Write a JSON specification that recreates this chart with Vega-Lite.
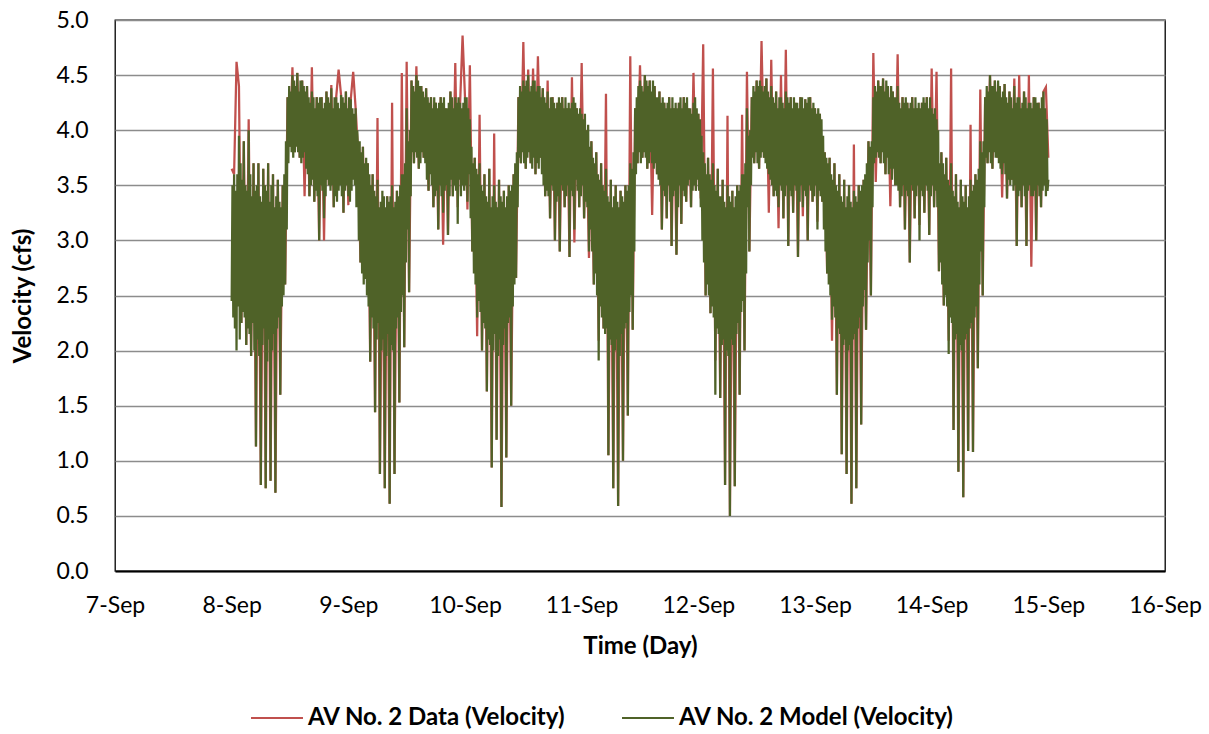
{
  "$schema": "https://vega.github.io/schema/vega-lite/v6.json",
  "width": 1050,
  "height": 551,
  "autosize": "none",
  "padding": {"left": 115, "top": 20, "right": 44, "bottom": 163},
  "background": "white",
  "config": {
    "font": "Lato",
    "view": {"stroke": "#000000", "strokeWidth": 1.3},
    "axis": {"labelColor": "#000000", "titleColor": "#000000", "labelFont": "Lato", "titleFont": "Lato"}
  },
  "data": {
    "values": [
      {"t":0,"m":2.45,"d":3.65},{"t":10,"m":3.5},{"t":20,"m":2.3},
      {"t":30,"m":3.6,"d":3.6},{"t":40,"m":2.2},{"t":50,"m":3.45},
      {"t":60,"m":2.0,"d":4.62},{"t":70,"m":3.6},{"t":80,"m":2.4},
      {"t":90,"m":3.95,"d":4.4},{"t":100,"m":2.1},{"t":110,"m":3.7},
      {"t":120,"m":2.25,"d":2.25},{"t":130,"m":3.55},{"t":140,"m":2.35},
      {"t":150,"m":3.9,"d":3.9},{"t":160,"m":2.3},{"t":170,"m":3.5},
      {"t":180,"m":2.05,"d":2.05},{"t":190,"m":3.45},{"t":200,"m":2.2},
      {"t":210,"m":4.0,"d":4.1},{"t":220,"m":2.15},{"t":230,"m":3.6},
      {"t":240,"m":1.95,"d":1.95},{"t":250,"m":3.4},{"t":260,"m":2.25},
      {"t":270,"m":3.7,"d":3.7},{"t":280,"m":2.0},{"t":290,"m":3.45},
      {"t":300,"m":1.13,"d":1.13},{"t":310,"m":3.5},{"t":320,"m":2.1},
      {"t":330,"m":3.7,"d":3.7},{"t":340,"m":1.95},{"t":350,"m":3.4},
      {"t":360,"m":0.78,"d":0.78},{"t":370,"m":3.35},{"t":380,"m":2.05},
      {"t":390,"m":3.65,"d":3.65},{"t":400,"m":2.2},{"t":410,"m":3.5},
      {"t":420,"m":0.75,"d":0.75},{"t":430,"m":3.45},{"t":440,"m":1.9},
      {"t":450,"m":3.7,"d":3.7},{"t":460,"m":2.1},{"t":470,"m":3.35},
      {"t":480,"m":0.82,"d":0.82},{"t":490,"m":3.5},{"t":500,"m":2.0},
      {"t":510,"m":3.6,"d":3.6},{"t":520,"m":2.15},{"t":530,"m":3.3},
      {"t":540,"m":0.71,"d":0.71},{"t":550,"m":3.4},{"t":560,"m":2.2},
      {"t":570,"m":3.55,"d":3.55},{"t":580,"m":2.3},{"t":590,"m":3.35},
      {"t":600,"m":1.6,"d":1.6},{"t":610,"m":3.3},{"t":620,"m":2.4},
      {"t":630,"m":3.5,"d":3.5},{"t":640,"m":2.5},{"t":650,"m":3.6},
      {"t":660,"m":2.6,"d":2.6},{"t":670,"m":3.9},{"t":680,"m":3.1},
      {"t":690,"m":4.3,"d":4.3},{"t":700,"m":3.7},{"t":710,"m":4.4},
      {"t":720,"m":3.85,"d":3.85},{"t":730,"m":4.35},{"t":740,"m":3.8},
      {"t":750,"m":4.5,"d":4.57},{"t":760,"m":3.75},{"t":770,"m":4.45},
      {"t":780,"m":3.8,"d":3.8},{"t":790,"m":4.4},{"t":800,"m":3.85},
      {"t":810,"m":4.52,"d":4.52},{"t":820,"m":3.8},{"t":830,"m":4.35},
      {"t":840,"m":3.75,"d":3.75},{"t":850,"m":4.45},{"t":860,"m":3.7},
      {"t":870,"m":4.45,"d":4.45},{"t":880,"m":3.75},{"t":890,"m":4.4},
      {"t":900,"m":3.8,"d":3.4},{"t":910,"m":4.35},{"t":920,"m":3.65},
      {"t":930,"m":4.4,"d":4.4},{"t":940,"m":3.6},{"t":950,"m":4.3},
      {"t":960,"m":3.4,"d":3.4},{"t":970,"m":4.25},{"t":980,"m":3.5},
      {"t":990,"m":4.35,"d":4.57},{"t":1000,"m":3.55},{"t":1010,"m":4.3},
      {"t":1020,"m":3.35,"d":3.35},{"t":1030,"m":4.2},{"t":1040,"m":3.45},
      {"t":1050,"m":4.3,"d":4.3},{"t":1060,"m":3.4},{"t":1070,"m":4.25},
      {"t":1080,"m":3.0,"d":3.0},{"t":1090,"m":4.3},{"t":1100,"m":3.5},
      {"t":1110,"m":4.3,"d":4.3},{"t":1120,"m":3.45},{"t":1130,"m":4.2},
      {"t":1140,"m":3.2,"d":3.0},{"t":1150,"m":4.25},{"t":1160,"m":3.4},
      {"t":1170,"m":4.35,"d":4.35},{"t":1180,"m":3.55},{"t":1190,"m":4.3},
      {"t":1200,"m":3.5,"d":3.5},{"t":1210,"m":4.25},{"t":1220,"m":3.45},
      {"t":1230,"m":4.38,"d":4.41},{"t":1240,"m":3.5},{"t":1250,"m":4.2},
      {"t":1260,"m":3.3,"d":3.3},{"t":1270,"m":4.3},{"t":1280,"m":3.4},
      {"t":1290,"m":4.3,"d":4.3},{"t":1300,"m":3.35},{"t":1310,"m":4.25},
      {"t":1320,"m":3.45,"d":4.55},{"t":1330,"m":4.2},{"t":1340,"m":3.5},
      {"t":1350,"m":4.32,"d":4.32},{"t":1360,"m":3.4},{"t":1370,"m":4.3},
      {"t":1380,"m":3.25,"d":3.25},{"t":1390,"m":4.25},{"t":1400,"m":3.45},
      {"t":1410,"m":4.35,"d":4.35},{"t":1420,"m":3.5},{"t":1430,"m":4.2},
      {"t":1440,"m":3.4,"d":3.32},{"t":1450,"m":4.3},{"t":1460,"m":3.35},
      {"t":1470,"m":4.28,"d":4.28},{"t":1480,"m":3.45},{"t":1490,"m":4.2},
      {"t":1500,"m":3.55,"d":4.53},{"t":1510,"m":4.15},{"t":1520,"m":3.5},
      {"t":1530,"m":4.2,"d":4.2},{"t":1540,"m":3.3},{"t":1550,"m":4.0},
      {"t":1560,"m":3.8,"d":3.8},{"t":1570,"m":3.0},{"t":1580,"m":3.9},
      {"t":1590,"m":2.8,"d":2.8},{"t":1600,"m":3.8},{"t":1610,"m":2.7},
      {"t":1620,"m":3.85,"d":3.85},{"t":1630,"m":2.6},{"t":1640,"m":3.7},
      {"t":1650,"m":2.65,"d":2.65},{"t":1660,"m":3.75},{"t":1670,"m":2.5},
      {"t":1680,"m":3.7,"d":3.7},{"t":1690,"m":2.4},{"t":1700,"m":3.6},
      {"t":1710,"m":1.9,"d":1.9},{"t":1720,"m":3.5},{"t":1730,"m":2.3},
      {"t":1740,"m":3.6,"d":3.6},{"t":1750,"m":2.2},{"t":1760,"m":3.45},
      {"t":1770,"m":1.44,"d":1.44},{"t":1780,"m":3.4},{"t":1790,"m":2.1},
      {"t":1800,"m":3.55,"d":4.11},{"t":1810,"m":2.25},{"t":1820,"m":3.3},
      {"t":1830,"m":0.88,"d":0.88},{"t":1840,"m":3.35},{"t":1850,"m":2.0},
      {"t":1860,"m":3.45,"d":3.35},{"t":1870,"m":2.1},{"t":1880,"m":3.4},
      {"t":1890,"m":0.75,"d":0.75},{"t":1900,"m":3.3},{"t":1910,"m":1.95},
      {"t":1920,"m":3.4,"d":3.4},{"t":1930,"m":2.15},{"t":1940,"m":3.35},
      {"t":1950,"m":0.61,"d":0.61},{"t":1960,"m":3.4},{"t":1970,"m":2.05},
      {"t":1980,"m":3.5,"d":4.25},{"t":1990,"m":2.0},{"t":2000,"m":3.3},
      {"t":2010,"m":0.88,"d":0.88},{"t":2020,"m":3.35},{"t":2030,"m":2.2},
      {"t":2040,"m":3.45,"d":3.45},{"t":2050,"m":2.3},{"t":2060,"m":3.4},
      {"t":2070,"m":1.53,"d":1.53},{"t":2080,"m":3.5},{"t":2090,"m":2.35},
      {"t":2100,"m":3.6,"d":4.52},{"t":2110,"m":2.5},{"t":2120,"m":3.6},
      {"t":2130,"m":2.03,"d":2.03},{"t":2140,"m":3.7},{"t":2150,"m":2.8},
      {"t":2160,"m":4.2,"d":4.62},{"t":2170,"m":3.1},{"t":2180,"m":3.9},
      {"t":2190,"m":2.53,"d":2.53},{"t":2200,"m":4.0},{"t":2210,"m":3.4},
      {"t":2220,"m":4.45,"d":4.45},{"t":2230,"m":3.8},{"t":2240,"m":4.4},
      {"t":2250,"m":3.7,"d":3.7},{"t":2260,"m":4.35},{"t":2270,"m":3.8},
      {"t":2280,"m":4.5,"d":4.58},{"t":2290,"m":3.75},{"t":2300,"m":4.45},
      {"t":2310,"m":3.65,"d":3.65},{"t":2320,"m":4.4},{"t":2330,"m":3.7},
      {"t":2340,"m":4.4,"d":4.4},{"t":2350,"m":3.8},{"t":2360,"m":4.35},
      {"t":2370,"m":3.75,"d":3.75},{"t":2380,"m":4.3},{"t":2390,"m":3.7},
      {"t":2400,"m":4.38,"d":4.38},{"t":2410,"m":3.55},{"t":2420,"m":4.3},
      {"t":2430,"m":3.45,"d":3.45},{"t":2440,"m":4.25},{"t":2450,"m":3.6},
      {"t":2460,"m":4.3,"d":4.3},{"t":2470,"m":3.5},{"t":2480,"m":4.2},
      {"t":2490,"m":3.3,"d":3.3},{"t":2500,"m":4.3},{"t":2510,"m":3.4},
      {"t":2520,"m":4.25,"d":4.25},{"t":2530,"m":3.45},{"t":2540,"m":4.2},
      {"t":2550,"m":3.1,"d":3.1},{"t":2560,"m":4.25},{"t":2570,"m":3.5},
      {"t":2580,"m":4.3,"d":4.3},{"t":2590,"m":3.4},{"t":2600,"m":4.25},
      {"t":2610,"m":3.25,"d":2.96},{"t":2620,"m":4.3},{"t":2630,"m":3.45},
      {"t":2640,"m":4.2,"d":4.2},{"t":2650,"m":3.5},{"t":2660,"m":4.2},
      {"t":2670,"m":3.05,"d":3.05},{"t":2680,"m":4.25},{"t":2690,"m":3.4},
      {"t":2700,"m":4.35,"d":4.35},{"t":2710,"m":3.55},{"t":2720,"m":4.3},
      {"t":2730,"m":3.4,"d":3.4},{"t":2740,"m":4.2},{"t":2750,"m":3.5},
      {"t":2760,"m":4.3,"d":4.61},{"t":2770,"m":3.45},{"t":2780,"m":4.25},
      {"t":2790,"m":3.15,"d":3.3},{"t":2800,"m":4.3},{"t":2810,"m":3.55},
      {"t":2820,"m":4.25,"d":4.25},{"t":2830,"m":3.4},{"t":2840,"m":4.2},
      {"t":2850,"m":3.5,"d":4.86},{"t":2860,"m":4.25},{"t":2870,"m":3.45},
      {"t":2880,"m":4.3,"d":4.3},{"t":2890,"m":3.5},{"t":2900,"m":4.3},
      {"t":2910,"m":3.35,"d":3.28},{"t":2920,"m":4.2},{"t":2930,"m":3.6},
      {"t":2940,"m":4.1,"d":4.59},{"t":2950,"m":3.2},{"t":2960,"m":3.85},
      {"t":2970,"m":2.9,"d":2.9},{"t":2980,"m":3.7},{"t":2990,"m":2.7},
      {"t":3000,"m":3.75,"d":3.75},{"t":3010,"m":2.6},{"t":3020,"m":3.65},
      {"t":3030,"m":2.3,"d":2.13},{"t":3040,"m":3.6},{"t":3050,"m":2.45},
      {"t":3060,"m":3.7,"d":4.14},{"t":3070,"m":2.35},{"t":3080,"m":3.5},
      {"t":3090,"m":2.0,"d":2.0},{"t":3100,"m":3.45},{"t":3110,"m":2.25},
      {"t":3120,"m":3.6,"d":3.6},{"t":3130,"m":2.2},{"t":3140,"m":3.4},
      {"t":3150,"m":1.63,"d":1.63},{"t":3160,"m":3.35},{"t":3170,"m":2.1},
      {"t":3180,"m":3.65,"d":3.65},{"t":3190,"m":2.05},{"t":3200,"m":3.3},
      {"t":3210,"m":0.94,"d":0.94},{"t":3220,"m":3.4},{"t":3230,"m":2.0},
      {"t":3240,"m":3.5,"d":3.97},{"t":3250,"m":2.15},{"t":3260,"m":3.35},
      {"t":3270,"m":1.19,"d":1.19},{"t":3280,"m":3.3},{"t":3290,"m":1.95},
      {"t":3300,"m":3.55,"d":3.55},{"t":3310,"m":2.1},{"t":3320,"m":3.4},
      {"t":3330,"m":0.58,"d":0.58},{"t":3340,"m":3.35},{"t":3350,"m":2.05},
      {"t":3360,"m":3.45,"d":3.45},{"t":3370,"m":2.2},{"t":3380,"m":3.3},
      {"t":3390,"m":1.03,"d":1.03},{"t":3400,"m":3.4},{"t":3410,"m":2.25},
      {"t":3420,"m":3.5,"d":3.5},{"t":3430,"m":2.3},{"t":3440,"m":3.45},
      {"t":3450,"m":1.5,"d":1.5},{"t":3460,"m":3.5},{"t":3470,"m":2.4},
      {"t":3480,"m":3.6,"d":3.6},{"t":3490,"m":2.6},{"t":3500,"m":3.7},
      {"t":3510,"m":2.66,"d":2.66},{"t":3520,"m":3.8},{"t":3530,"m":3.3},
      {"t":3540,"m":4.3,"d":4.3},{"t":3550,"m":3.75},{"t":3560,"m":4.4},
      {"t":3570,"m":3.7,"d":3.7},{"t":3580,"m":4.35},{"t":3590,"m":3.8},
      {"t":3600,"m":4.45,"d":4.8},{"t":3610,"m":3.7},{"t":3620,"m":4.4},
      {"t":3630,"m":3.65,"d":3.65},{"t":3640,"m":4.45},{"t":3650,"m":3.75},
      {"t":3660,"m":4.5,"d":4.55},{"t":3670,"m":3.8},{"t":3680,"m":4.35},
      {"t":3690,"m":3.7,"d":3.7},{"t":3700,"m":4.4},{"t":3710,"m":3.65},
      {"t":3720,"m":4.45,"d":4.56},{"t":3730,"m":3.75},{"t":3740,"m":4.45},
      {"t":3750,"m":3.6,"d":3.6},{"t":3760,"m":4.35},{"t":3770,"m":3.7},
      {"t":3780,"m":4.4,"d":4.67},{"t":3790,"m":3.65},{"t":3800,"m":4.4},
      {"t":3810,"m":3.75,"d":3.75},{"t":3820,"m":4.3},{"t":3830,"m":3.6},
      {"t":3840,"m":4.38,"d":4.38},{"t":3850,"m":3.5},{"t":3860,"m":4.3},
      {"t":3870,"m":3.4,"d":3.4},{"t":3880,"m":4.25},{"t":3890,"m":3.45},
      {"t":3900,"m":4.35,"d":4.45},{"t":3910,"m":3.4},{"t":3920,"m":4.2},
      {"t":3930,"m":3.2,"d":3.2},{"t":3940,"m":4.3},{"t":3950,"m":3.5},
      {"t":3960,"m":4.3,"d":4.3},{"t":3970,"m":3.45},{"t":3980,"m":4.25},
      {"t":3990,"m":3.0,"d":3.0},{"t":4000,"m":4.2},{"t":4010,"m":3.35},
      {"t":4020,"m":4.25,"d":4.25},{"t":4030,"m":3.4},{"t":4040,"m":4.3},
      {"t":4050,"m":2.9,"d":2.9},{"t":4060,"m":4.25},{"t":4070,"m":3.5},
      {"t":4080,"m":4.3,"d":4.3},{"t":4090,"m":3.45},{"t":4100,"m":4.2},
      {"t":4110,"m":3.3,"d":3.3},{"t":4120,"m":4.3},{"t":4130,"m":3.4},
      {"t":4140,"m":4.2,"d":4.2},{"t":4150,"m":3.5},{"t":4160,"m":4.25},
      {"t":4170,"m":2.85,"d":2.85},{"t":4180,"m":4.2},{"t":4190,"m":3.45},
      {"t":4200,"m":4.25,"d":4.48},{"t":4210,"m":3.4},{"t":4220,"m":4.3},
      {"t":4230,"m":3.1,"d":2.98},{"t":4240,"m":4.25},{"t":4250,"m":3.55},
      {"t":4260,"m":4.2,"d":4.2},{"t":4270,"m":3.45},{"t":4280,"m":4.15},
      {"t":4290,"m":3.3,"d":3.3},{"t":4300,"m":4.2},{"t":4310,"m":3.4},
      {"t":4320,"m":4.15,"d":4.61},{"t":4330,"m":3.5},{"t":4340,"m":4.1},
      {"t":4350,"m":3.2,"d":3.2},{"t":4360,"m":4.15},{"t":4370,"m":3.35},
      {"t":4380,"m":4.0,"d":4.0},{"t":4390,"m":3.3},{"t":4400,"m":4.05},
      {"t":4410,"m":2.9,"d":2.84},{"t":4420,"m":3.85},{"t":4430,"m":3.1},
      {"t":4440,"m":3.9,"d":3.9},{"t":4450,"m":2.9},{"t":4460,"m":3.75},
      {"t":4470,"m":2.6,"d":2.6},{"t":4480,"m":3.7},{"t":4490,"m":2.7},
      {"t":4500,"m":3.8,"d":3.8},{"t":4510,"m":2.5},{"t":4520,"m":3.6},
      {"t":4530,"m":1.91,"d":2.09},{"t":4540,"m":3.55},{"t":4550,"m":2.4},
      {"t":4560,"m":3.7,"d":3.7},{"t":4570,"m":2.3},{"t":4580,"m":3.5},
      {"t":4590,"m":2.2,"d":2.2},{"t":4600,"m":3.45},{"t":4610,"m":2.15},
      {"t":4620,"m":3.65,"d":4.33},{"t":4630,"m":2.2},{"t":4640,"m":3.4},
      {"t":4650,"m":1.05,"d":1.05},{"t":4660,"m":3.35},{"t":4670,"m":2.1},
      {"t":4680,"m":3.55,"d":3.55},{"t":4690,"m":2.05},{"t":4700,"m":3.3},
      {"t":4710,"m":0.75,"d":0.75},{"t":4720,"m":3.4},{"t":4730,"m":2.0},
      {"t":4740,"m":3.5,"d":3.5},{"t":4750,"m":2.1},{"t":4760,"m":3.35},
      {"t":4770,"m":0.59,"d":0.59},{"t":4780,"m":3.3},{"t":4790,"m":1.95},
      {"t":4800,"m":3.45,"d":3.45},{"t":4810,"m":2.15},{"t":4820,"m":3.4},
      {"t":4830,"m":1.0,"d":1.0},{"t":4840,"m":3.35},{"t":4850,"m":2.2},
      {"t":4860,"m":3.5,"d":3.5},{"t":4870,"m":2.25},{"t":4880,"m":3.45},
      {"t":4890,"m":1.41,"d":1.41},{"t":4900,"m":3.5},{"t":4910,"m":2.35},
      {"t":4920,"m":3.7,"d":4.67},{"t":4930,"m":2.5},{"t":4940,"m":3.65},
      {"t":4950,"m":2.19,"d":2.19},{"t":4960,"m":3.8},{"t":4970,"m":2.9},
      {"t":4980,"m":4.2,"d":4.2},{"t":4990,"m":3.6},{"t":5000,"m":4.3},
      {"t":5010,"m":3.7,"d":3.7},{"t":5020,"m":4.4},{"t":5030,"m":3.8},
      {"t":5040,"m":4.45,"d":4.59},{"t":5050,"m":3.7},{"t":5060,"m":4.4},
      {"t":5070,"m":3.75,"d":3.75},{"t":5080,"m":4.35},{"t":5090,"m":3.8},
      {"t":5100,"m":4.5,"d":4.5},{"t":5110,"m":3.75},{"t":5120,"m":4.45},
      {"t":5130,"m":3.65,"d":3.65},{"t":5140,"m":4.4},{"t":5150,"m":3.7},
      {"t":5160,"m":4.45,"d":4.45},{"t":5170,"m":3.8},{"t":5180,"m":4.35},
      {"t":5190,"m":3.7,"d":3.23},{"t":5200,"m":4.45},{"t":5210,"m":3.65},
      {"t":5220,"m":4.4,"d":4.4},{"t":5230,"m":3.7},{"t":5240,"m":4.3},
      {"t":5250,"m":3.6,"d":3.6},{"t":5260,"m":4.3},{"t":5270,"m":3.55},
      {"t":5280,"m":4.35,"d":4.35},{"t":5290,"m":3.5},{"t":5300,"m":4.25},
      {"t":5310,"m":3.1,"d":3.1},{"t":5320,"m":4.3},{"t":5330,"m":3.45},
      {"t":5340,"m":4.25,"d":4.25},{"t":5350,"m":3.4},{"t":5360,"m":4.2},
      {"t":5370,"m":3.2,"d":3.2},{"t":5380,"m":4.25},{"t":5390,"m":3.5},
      {"t":5400,"m":4.3,"d":4.3},{"t":5410,"m":3.35},{"t":5420,"m":4.2},
      {"t":5430,"m":2.95,"d":2.95},{"t":5440,"m":4.3},{"t":5450,"m":3.4},
      {"t":5460,"m":4.2,"d":4.2},{"t":5470,"m":3.45},{"t":5480,"m":4.25},
      {"t":5490,"m":2.87,"d":2.87},{"t":5500,"m":4.2},{"t":5510,"m":3.3},
      {"t":5520,"m":4.25,"d":4.25},{"t":5530,"m":3.5},{"t":5540,"m":4.3},
      {"t":5550,"m":3.15,"d":3.15},{"t":5560,"m":4.2},{"t":5570,"m":3.45},
      {"t":5580,"m":4.3,"d":4.3},{"t":5590,"m":3.4},{"t":5600,"m":4.25},
      {"t":5610,"m":3.35,"d":3.35},{"t":5620,"m":4.3},{"t":5630,"m":3.5},
      {"t":5640,"m":4.2,"d":4.2},{"t":5650,"m":3.55},{"t":5660,"m":4.2},
      {"t":5670,"m":3.3,"d":3.3},{"t":5680,"m":4.15},{"t":5690,"m":3.45},
      {"t":5700,"m":4.25,"d":4.52},{"t":5710,"m":3.5},{"t":5720,"m":4.3},
      {"t":5730,"m":3.45,"d":3.45},{"t":5740,"m":4.2},{"t":5750,"m":3.55},
      {"t":5760,"m":4.15,"d":4.15},{"t":5770,"m":3.45},{"t":5780,"m":4.1},
      {"t":5790,"m":3.3,"d":3.38},{"t":5800,"m":3.95},{"t":5810,"m":3.0},
      {"t":5820,"m":3.8,"d":4.78},{"t":5830,"m":2.8},{"t":5840,"m":3.7},
      {"t":5850,"m":2.5,"d":2.5},{"t":5860,"m":3.6},{"t":5870,"m":2.6},
      {"t":5880,"m":3.75,"d":3.75},{"t":5890,"m":2.5},{"t":5900,"m":3.6},
      {"t":5910,"m":2.34,"d":2.34},{"t":5920,"m":3.55},{"t":5930,"m":2.4},
      {"t":5940,"m":3.7,"d":4.56},{"t":5950,"m":2.3},{"t":5960,"m":3.5},
      {"t":5970,"m":1.6,"d":1.91},{"t":5980,"m":3.45},{"t":5990,"m":2.2},
      {"t":6000,"m":3.65,"d":3.65},{"t":6010,"m":2.15},{"t":6020,"m":3.4},
      {"t":6030,"m":1.57,"d":1.57},{"t":6040,"m":3.4},{"t":6050,"m":2.05},
      {"t":6060,"m":3.55,"d":3.55},{"t":6070,"m":2.1},{"t":6080,"m":3.35},
      {"t":6090,"m":0.78,"d":0.78},{"t":6100,"m":3.3},{"t":6110,"m":2.0},
      {"t":6120,"m":3.5,"d":4.13},{"t":6130,"m":1.95},{"t":6140,"m":3.4},
      {"t":6150,"m":0.5,"d":0.5},{"t":6160,"m":3.35},{"t":6170,"m":2.1},
      {"t":6180,"m":3.45,"d":3.45},{"t":6190,"m":2.05},{"t":6200,"m":3.3},
      {"t":6210,"m":0.77,"d":0.77},{"t":6220,"m":3.4},{"t":6230,"m":2.15},
      {"t":6240,"m":3.5,"d":3.5},{"t":6250,"m":2.25},{"t":6260,"m":3.45},
      {"t":6270,"m":1.6,"d":1.6},{"t":6280,"m":3.5},{"t":6290,"m":2.35},
      {"t":6300,"m":3.6,"d":4.14},{"t":6310,"m":2.45},{"t":6320,"m":3.6},
      {"t":6330,"m":2.0,"d":2.0},{"t":6340,"m":3.7},{"t":6350,"m":2.7},
      {"t":6360,"m":4.2,"d":4.53},{"t":6370,"m":3.3},{"t":6380,"m":3.95},
      {"t":6390,"m":2.9,"d":2.9},{"t":6400,"m":4.0},{"t":6410,"m":3.5},
      {"t":6420,"m":4.3,"d":4.3},{"t":6430,"m":3.75},{"t":6440,"m":4.4},
      {"t":6450,"m":3.7,"d":3.7},{"t":6460,"m":4.35},{"t":6470,"m":3.8},
      {"t":6480,"m":4.45,"d":4.45},{"t":6490,"m":3.7},{"t":6500,"m":4.4},
      {"t":6510,"m":3.65,"d":3.65},{"t":6520,"m":4.45},{"t":6530,"m":3.75},
      {"t":6540,"m":4.4,"d":4.81},{"t":6550,"m":3.8},{"t":6560,"m":4.35},
      {"t":6570,"m":3.75,"d":3.75},{"t":6580,"m":4.4},{"t":6590,"m":3.7},
      {"t":6600,"m":4.47,"d":4.47},{"t":6610,"m":3.65},{"t":6620,"m":4.35},
      {"t":6630,"m":3.6,"d":3.25},{"t":6640,"m":4.3},{"t":6650,"m":3.55},
      {"t":6660,"m":4.4,"d":4.64},{"t":6670,"m":3.5},{"t":6680,"m":4.3},
      {"t":6690,"m":3.4,"d":3.4},{"t":6700,"m":4.25},{"t":6710,"m":3.45},
      {"t":6720,"m":4.35,"d":4.35},{"t":6730,"m":3.4},{"t":6740,"m":4.2},
      {"t":6750,"m":3.3,"d":3.11},{"t":6760,"m":4.3},{"t":6770,"m":3.5},
      {"t":6780,"m":4.3,"d":4.5},{"t":6790,"m":3.45},{"t":6800,"m":4.25},
      {"t":6810,"m":3.2,"d":3.2},{"t":6820,"m":4.2},{"t":6830,"m":3.4},
      {"t":6840,"m":4.35,"d":4.73},{"t":6850,"m":3.5},{"t":6860,"m":4.3},
      {"t":6870,"m":2.95,"d":2.95},{"t":6880,"m":4.25},{"t":6890,"m":3.45},
      {"t":6900,"m":4.3,"d":4.3},{"t":6910,"m":3.4},{"t":6920,"m":4.2},
      {"t":6930,"m":3.25,"d":3.25},{"t":6940,"m":4.3},{"t":6950,"m":3.5},
      {"t":6960,"m":4.25,"d":4.25},{"t":6970,"m":3.45},{"t":6980,"m":4.25},
      {"t":6990,"m":2.85,"d":2.85},{"t":7000,"m":4.2},{"t":7010,"m":3.35},
      {"t":7020,"m":4.3,"d":4.3},{"t":7030,"m":3.5},{"t":7040,"m":4.3},
      {"t":7050,"m":3.3,"d":3.22},{"t":7060,"m":4.2},{"t":7070,"m":3.45},
      {"t":7080,"m":4.28,"d":4.28},{"t":7090,"m":3.4},{"t":7100,"m":4.25},
      {"t":7110,"m":3.0,"d":3.0},{"t":7120,"m":4.3},{"t":7130,"m":3.5},
      {"t":7140,"m":4.3,"d":4.3},{"t":7150,"m":3.45},{"t":7160,"m":4.2},
      {"t":7170,"m":3.35,"d":3.35},{"t":7180,"m":4.25},{"t":7190,"m":3.4},
      {"t":7200,"m":4.2,"d":4.2},{"t":7210,"m":3.5},{"t":7220,"m":4.15},
      {"t":7230,"m":3.1,"d":3.17},{"t":7240,"m":4.2},{"t":7250,"m":3.45},
      {"t":7260,"m":4.15,"d":4.15},{"t":7270,"m":3.4},{"t":7280,"m":4.1},
      {"t":7290,"m":3.35,"d":3.35},{"t":7300,"m":3.95},{"t":7310,"m":3.1},
      {"t":7320,"m":3.8,"d":3.8},{"t":7330,"m":2.9},{"t":7340,"m":3.75},
      {"t":7350,"m":2.7,"d":2.7},{"t":7360,"m":3.7},{"t":7370,"m":2.6},
      {"t":7380,"m":3.75,"d":3.75},{"t":7390,"m":2.5},{"t":7400,"m":3.6},
      {"t":7410,"m":2.28,"d":2.09},{"t":7420,"m":3.55},{"t":7430,"m":2.4},
      {"t":7440,"m":3.7,"d":3.7},{"t":7450,"m":2.3},{"t":7460,"m":3.5},
      {"t":7470,"m":1.6,"d":1.6},{"t":7480,"m":3.45},{"t":7490,"m":2.2},
      {"t":7500,"m":3.6,"d":3.6},{"t":7510,"m":2.15},{"t":7520,"m":3.4},
      {"t":7530,"m":1.06,"d":1.06},{"t":7540,"m":3.35},{"t":7550,"m":2.05},
      {"t":7560,"m":3.55,"d":3.55},{"t":7570,"m":2.1},{"t":7580,"m":3.3},
      {"t":7590,"m":0.88,"d":0.88},{"t":7600,"m":3.4},{"t":7610,"m":2.0},
      {"t":7620,"m":3.5,"d":3.5},{"t":7630,"m":2.05},{"t":7640,"m":3.35},
      {"t":7650,"m":0.61,"d":0.61},{"t":7660,"m":3.3},{"t":7670,"m":2.1},
      {"t":7680,"m":3.45,"d":3.87},{"t":7690,"m":2.15},{"t":7700,"m":3.4},
      {"t":7710,"m":0.75,"d":0.75},{"t":7720,"m":3.35},{"t":7730,"m":2.2},
      {"t":7740,"m":3.5,"d":3.5},{"t":7750,"m":2.3},{"t":7760,"m":3.45},
      {"t":7770,"m":1.33,"d":1.33},{"t":7780,"m":3.5},{"t":7790,"m":2.4},
      {"t":7800,"m":3.55,"d":3.55},{"t":7810,"m":2.55},{"t":7820,"m":3.6},
      {"t":7830,"m":2.19,"d":2.19},{"t":7840,"m":3.7},{"t":7850,"m":2.8},
      {"t":7860,"m":3.9,"d":3.9},{"t":7870,"m":3.0},{"t":7880,"m":3.85},
      {"t":7890,"m":2.5,"d":2.5},{"t":7900,"m":3.9},{"t":7910,"m":3.3},
      {"t":7920,"m":4.3,"d":4.7},{"t":7930,"m":3.7},{"t":7940,"m":4.4},
      {"t":7950,"m":3.75,"d":3.53},{"t":7960,"m":4.35},{"t":7970,"m":3.8},
      {"t":7980,"m":4.45,"d":4.45},{"t":7990,"m":3.75},{"t":8000,"m":4.4},
      {"t":8010,"m":3.7,"d":3.7},{"t":8020,"m":4.4},{"t":8030,"m":3.8},
      {"t":8040,"m":4.47,"d":4.47},{"t":8050,"m":3.7},{"t":8060,"m":4.35},
      {"t":8070,"m":3.6,"d":3.6},{"t":8080,"m":4.45},{"t":8090,"m":3.75},
      {"t":8100,"m":4.4,"d":4.4},{"t":8110,"m":3.6},{"t":8120,"m":4.3},
      {"t":8130,"m":3.65,"d":3.31},{"t":8140,"m":4.4},{"t":8150,"m":3.55},
      {"t":8160,"m":4.35,"d":4.35},{"t":8170,"m":3.65},{"t":8180,"m":4.3},
      {"t":8190,"m":3.5,"d":3.5},{"t":8200,"m":4.3},{"t":8210,"m":3.5},
      {"t":8220,"m":4.4,"d":4.69},{"t":8230,"m":3.45},{"t":8240,"m":4.25},
      {"t":8250,"m":3.3,"d":3.3},{"t":8260,"m":4.2},{"t":8270,"m":3.4},
      {"t":8280,"m":4.3,"d":4.3},{"t":8290,"m":3.5},{"t":8300,"m":4.25},
      {"t":8310,"m":3.1,"d":3.1},{"t":8320,"m":4.3},{"t":8330,"m":3.45},
      {"t":8340,"m":4.25,"d":4.25},{"t":8350,"m":3.4},{"t":8360,"m":4.2},
      {"t":8370,"m":2.8,"d":2.8},{"t":8380,"m":4.25},{"t":8390,"m":3.5},
      {"t":8400,"m":4.3,"d":4.3},{"t":8410,"m":3.45},{"t":8420,"m":4.2},
      {"t":8430,"m":3.2,"d":3.2},{"t":8440,"m":4.3},{"t":8450,"m":3.4},
      {"t":8460,"m":4.2,"d":4.2},{"t":8470,"m":3.5},{"t":8480,"m":4.25},
      {"t":8490,"m":3.0,"d":3.14},{"t":8500,"m":4.2},{"t":8510,"m":3.45},
      {"t":8520,"m":4.25,"d":4.25},{"t":8530,"m":3.4},{"t":8540,"m":4.3},
      {"t":8550,"m":3.25,"d":3.25},{"t":8560,"m":4.25},{"t":8570,"m":3.5},
      {"t":8580,"m":4.3,"d":4.3},{"t":8590,"m":3.45},{"t":8600,"m":4.2},
      {"t":8610,"m":3.05,"d":3.05},{"t":8620,"m":4.3},{"t":8630,"m":3.4},
      {"t":8640,"m":4.2,"d":4.56},{"t":8650,"m":3.5},{"t":8660,"m":4.15},
      {"t":8670,"m":3.3,"d":3.3},{"t":8680,"m":4.2},{"t":8690,"m":3.45},
      {"t":8700,"m":4.1,"d":4.53},{"t":8710,"m":3.3},{"t":8720,"m":4.0},
      {"t":8730,"m":2.72,"d":2.72},{"t":8740,"m":3.7},{"t":8750,"m":2.8},
      {"t":8760,"m":3.8,"d":3.8},{"t":8770,"m":2.6},{"t":8780,"m":3.7},
      {"t":8790,"m":2.41,"d":2.41},{"t":8800,"m":3.6},{"t":8810,"m":2.5},
      {"t":8820,"m":3.75,"d":3.75},{"t":8830,"m":2.4},{"t":8840,"m":3.55},
      {"t":8850,"m":1.97,"d":2.09},{"t":8860,"m":3.5},{"t":8870,"m":2.3},
      {"t":8880,"m":3.7,"d":4.56},{"t":8890,"m":2.25},{"t":8900,"m":3.45},
      {"t":8910,"m":1.28,"d":1.28},{"t":8920,"m":3.4},{"t":8930,"m":2.1},
      {"t":8940,"m":3.6,"d":3.6},{"t":8950,"m":2.15},{"t":8960,"m":3.35},
      {"t":8970,"m":0.9,"d":0.9},{"t":8980,"m":3.3},{"t":8990,"m":2.05},
      {"t":9000,"m":3.55,"d":3.55},{"t":9010,"m":2.0},{"t":9020,"m":3.4},
      {"t":9030,"m":0.67,"d":0.67},{"t":9040,"m":3.35},{"t":9050,"m":2.1},
      {"t":9060,"m":3.5,"d":3.5},{"t":9070,"m":2.15},{"t":9080,"m":3.3},
      {"t":9090,"m":1.09,"d":1.09},{"t":9100,"m":3.4},{"t":9110,"m":2.2},
      {"t":9120,"m":3.55,"d":4.05},{"t":9130,"m":2.25},{"t":9140,"m":3.45},
      {"t":9150,"m":1.08,"d":1.08},{"t":9160,"m":3.5},{"t":9170,"m":2.3},
      {"t":9180,"m":3.6,"d":3.6},{"t":9190,"m":2.4},{"t":9200,"m":3.55},
      {"t":9210,"m":1.84,"d":1.84},{"t":9220,"m":3.65},{"t":9230,"m":2.6},
      {"t":9240,"m":3.9,"d":4.37},{"t":9250,"m":2.9},{"t":9260,"m":3.8},
      {"t":9270,"m":2.5,"d":2.5},{"t":9280,"m":3.9},{"t":9290,"m":3.3},
      {"t":9300,"m":4.3,"d":4.3},{"t":9310,"m":3.75},{"t":9320,"m":4.4},
      {"t":9330,"m":3.7,"d":3.7},{"t":9340,"m":4.35},{"t":9350,"m":3.8},
      {"t":9360,"m":4.5,"d":4.5},{"t":9370,"m":3.7},{"t":9380,"m":4.4},
      {"t":9390,"m":3.65,"d":3.65},{"t":9400,"m":4.4},{"t":9410,"m":3.8},
      {"t":9420,"m":4.45,"d":4.45},{"t":9430,"m":3.75},{"t":9440,"m":4.35},
      {"t":9450,"m":3.75,"d":3.75},{"t":9460,"m":4.45},{"t":9470,"m":3.7},
      {"t":9480,"m":4.4,"d":4.4},{"t":9490,"m":3.65},{"t":9500,"m":4.3},
      {"t":9510,"m":3.6,"d":3.39},{"t":9520,"m":4.35},{"t":9530,"m":3.7},
      {"t":9540,"m":4.42,"d":4.42},{"t":9550,"m":3.6},{"t":9560,"m":4.3},
      {"t":9570,"m":3.38,"d":3.38},{"t":9580,"m":4.25},{"t":9590,"m":3.55},
      {"t":9600,"m":4.35,"d":4.35},{"t":9610,"m":3.5},{"t":9620,"m":4.3},
      {"t":9630,"m":3.55,"d":3.55},{"t":9640,"m":4.2},{"t":9650,"m":3.45},
      {"t":9660,"m":4.4,"d":4.47},{"t":9670,"m":3.5},{"t":9680,"m":4.25},
      {"t":9690,"m":2.95,"d":2.95},{"t":9700,"m":4.3},{"t":9710,"m":3.4},
      {"t":9720,"m":4.3,"d":4.5},{"t":9730,"m":3.45},{"t":9740,"m":4.2},
      {"t":9750,"m":3.3,"d":3.3},{"t":9760,"m":4.25},{"t":9770,"m":3.5},
      {"t":9780,"m":4.35,"d":4.35},{"t":9790,"m":3.4},{"t":9800,"m":4.3},
      {"t":9810,"m":2.95,"d":2.95},{"t":9820,"m":4.2},{"t":9830,"m":3.45},
      {"t":9840,"m":4.25,"d":4.5},{"t":9850,"m":3.5},{"t":9860,"m":4.25},
      {"t":9870,"m":3.4,"d":2.76},{"t":9880,"m":4.2},{"t":9890,"m":3.4},
      {"t":9900,"m":4.3,"d":4.3},{"t":9910,"m":3.45},{"t":9920,"m":4.3},
      {"t":9930,"m":3.0,"d":3.0},{"t":9940,"m":4.25},{"t":9950,"m":3.5},
      {"t":9960,"m":4.25,"d":4.25},{"t":9970,"m":3.4},{"t":9980,"m":4.2},
      {"t":9990,"m":3.3,"d":3.3},{"t":10000,"m":4.3},{"t":10010,"m":3.45},
      {"t":10020,"m":4.35,"d":4.35},{"t":10030,"m":3.5},{"t":10040,"m":4.2},
      {"t":10050,"m":3.4,"d":4.39},{"t":10060,"m":4.1},{"t":10070,"m":3.45},
      {"t":10080,"m":3.55,"d":3.75}
    ]
  },
  "encoding": {
    "x": {
      "field": "t",
      "type": "quantitative",
      "scale": {"domain": [-1440, 11520], "nice": false, "zero": false},
      "axis": {
        "values": [-1440, 0, 1440, 2880, 4320, 5760, 7200, 8640, 10080, 11520],
        "labelExpr": "(datum.value / 1440 + 8) + '-Sep'",
        "title": "Time (Day)",
        "grid": false,
        "ticks": false,
        "domainColor": "#000000",
        "domainWidth": 2,
        "labelFontSize": 23,
        "labelPadding": 23,
        "labelFlush": false,
        "labelOverlap": false,
        "titleFontSize": 24,
        "titleFontWeight": "bold",
        "titlePadding": 17
      }
    }
  },
  "layer": [
    {
      "transform": [{"filter": "isValid(datum.d)"}],
      "mark": {"type": "line", "strokeWidth": 2.25, "interpolate": "linear"},
      "encoding": {
        "y": {
          "field": "d",
          "type": "quantitative",
          "scale": {"domain": [0, 5], "nice": false},
          "axis": {
            "values": [0, 0.5, 1, 1.5, 2, 2.5, 3, 3.5, 4, 4.5, 5],
            "format": ".1f",
            "title": "Velocity (cfs)",
            "grid": true,
            "gridColor": "#8c8c8c",
            "gridWidth": 1.5,
            "ticks": false,
            "domain": false,
            "labelFontSize": 23,
            "labelPadding": 27,
            "labelFlush": false,
            "titleFontSize": 24,
            "titleFontWeight": "bold",
            "titlePadding": 20
          }
        },
        "color": {
          "datum": "AV No. 2 Data (Velocity)",
          "scale": {
            "domain": ["AV No. 2 Data (Velocity)", "AV No. 2 Model (Velocity)"],
            "range": ["#C0504D", "#4F6228"]
          },
          "legend": {
            "orient": "none",
            "legendX": 135,
            "legendY": 671,
            "direction": "horizontal",
            "title": null,
            "symbolType": "stroke",
            "symbolSize": 2700,
            "symbolStrokeWidth": 2,
            "labelFontSize": 24,
            "labelFontWeight": "bold",
            "labelColor": "#000000",
            "labelLimit": 500,
            "labelOffset": 4,
            "columnPadding": 52
          }
        }
      }
    },
    {
      "mark": {"type": "line", "strokeWidth": 2.25, "interpolate": "linear"},
      "encoding": {
        "y": {"field": "m", "type": "quantitative", "title": "Velocity (cfs)"},
        "color": {"datum": "AV No. 2 Model (Velocity)"}
      }
    }
  ]
}
